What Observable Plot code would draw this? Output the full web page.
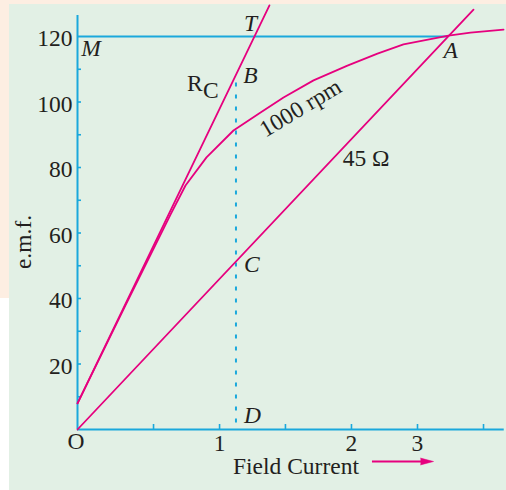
<!DOCTYPE html>
<html>
<head>
<meta charset="utf-8">
<script src="https://cdn.jsdelivr.net/npm/d3@7"></script>
<script src="https://cdn.jsdelivr.net/npm/@observablehq/plot@0.6"></script>
<style>
  html, body { margin: 0; padding: 0; background: #ffffff; }
  #wrap { position: relative; width: 506px; height: 490px; overflow: hidden; }
  #peach { position: absolute; left: 0; top: 0; width: 506px; height: 298px; background: #fdeee2; }
  #panel { position: absolute; left: 9px; top: 4px; width: 497px; height: 486px; background: #e2f0e5; }
  #chart { position: absolute; left: 0; top: 0; }
</style>
</head>
<body>
<div id="wrap">
  <div id="peach"></div>
  <div id="panel"></div>
  <div id="chart"></div>
</div>
<script>
// Open-circuit characteristic of a shunt generator at 1000 rpm (field current in A, e.m.f. in V)
const occCurrent = [0, 0.345, 0.669, 0.777, 0.928, 1.122, 1.317, 1.482, 1.698, 1.942, 2.158, 2.345, 2.669, 2.827, 3.065];
const occEmf     = [8, 37.9, 65.6, 74.5, 83.1, 91.3, 96.8, 101.4, 106.6, 111.1, 114.8, 117.6, 120.3, 121.2, 122.1];

// Critical resistance line (tangent to the initial part of the OCC)
const rcCurrent = [0, 1.381];
const rcEmf     = [8, 129.5];

// 45 ohm field resistance line
const fieldCurrent = [0, 2.849];
const fieldEmf     = [0, 128.2];

// Operating point A, tangent point T, and the construction at field current OD
const pointA = {I: 2.667, E: 120};
const pointT = {I: 1.273, E: 120};
const odCurrent = 1.14;
const pointB = {I: odCurrent, E: 108.3};
const pointC = {I: odCurrent, E: 51.3};
const pointD = {I: odCurrent, E: 0};

// Axis ticks
const yTickMarks = [10, 20, 30, 40, 50, 60, 70, 80, 90, 100, 110];
const yTickLabels = [20, 40, 60, 80, 100, 120];
const xTickPositions = [0.547, 1.022, 1.496, 1.971, 2.446, 2.921];
const xTickText = ["", "1", "", "2", "3", ""];

const magenta = "#e6007e";
const cyan = "#1aa8dc";
const ink = "#231f20";
const fs = 23.5;

const occ = occCurrent.map((I, i) => ({I, E: occEmf[i]}));
const rc = rcCurrent.map((I, i) => ({I, E: rcEmf[i]}));
const field = fieldCurrent.map((I, i) => ({I, E: fieldEmf[i]}));
const xTicks = xTickPositions.map((I, i) => ({I, label: xTickText[i]}));

const label = (data, options) => Plot.text(data, {fontSize: fs, fill: ink, lineAnchor: "middle", ...options});

const chart = Plot.plot({
  width: 506,
  height: 490,
  marginLeft: 77,
  marginRight: 0,
  marginTop: 3,
  marginBottom: 61,
  style: {background: "transparent", fontFamily: "'Liberation Serif', 'DejaVu Serif', serif", color: ink},
  x: {domain: [0, 3.0863], axis: null},
  y: {domain: [0, 130.08], axis: null},
  marks: [
    // axes
    Plot.ruleX([0], {y1: 0, y2: 126.4, stroke: cyan, strokeWidth: 2}),
    Plot.ruleY([0], {x1: 0, x2: 3.07, stroke: cyan, strokeWidth: 2}),
    Plot.tickY(yTickMarks, {y: d => d, insetRight: 425, stroke: cyan, strokeWidth: 1.6}),
    Plot.tickX(xTicks, {x: "I", insetTop: 421, stroke: cyan, strokeWidth: 1.6}),
    label(yTickLabels, {x: 0, y: d => d, text: d => String(d), textAnchor: "end", dx: -5, dy: 2}),
    label(xTicks, {x: "I", y: 0, text: "label", dy: 14}),
    label(["O"], {x: 0, y: 0, dx: -1.5, dy: 12}),

    // constant-voltage line MA at 120 V
    Plot.ruleY([pointA], {y: "E", x1: 0, x2: "I", stroke: cyan, strokeWidth: 2}),

    // ordinate BD
    Plot.ruleX([odCurrent], {y1: 2, y2: 107, stroke: cyan, strokeWidth: 2, strokeDasharray: "4,8"}),

    // curves
    Plot.line(rc, {x: "I", y: "E", stroke: magenta, strokeWidth: 1.8}),
    Plot.line(occ, {x: "I", y: "E", stroke: magenta, strokeWidth: 1.8}),
    Plot.line(field, {x: "I", y: "E", stroke: magenta, strokeWidth: 1.8}),

    // point labels
    label([pointT], {x: "I", y: "E", text: () => "T", dx: -4, dy: -13.5, fontStyle: "italic"}),
    label([{I: 0, E: 120}], {x: "I", y: "E", text: () => "M", dx: 13.5, dy: 12, fontStyle: "italic"}),
    label([pointA], {x: "I", y: "E", text: () => "A", dx: 2.5, dy: 13.5, fontStyle: "italic"}),
    label([pointB], {x: "I", y: "E", text: () => "B", dx: 14.5, dy: 1, fontStyle: "italic"}),
    label([pointC], {x: "I", y: "E", text: () => "C", dx: 16, dy: 3, fontStyle: "italic"}),
    label([pointD], {x: "I", y: "E", text: () => "D", dx: 16.5, dy: -14, fontStyle: "italic"}),

    // curve labels
    label([{I: 1.045, E: 100}], {x: "I", y: "E", text: () => "R", dx: -28, dy: -19}),
    label([{I: 1.045, E: 100}], {x: "I", y: "E", text: () => "C", dx: -12, dy: -12}),
    label([{I: 1.604, E: 104.3}], {x: "I", y: "E", text: () => "1000 rpm", rotate: -31, dy: 20}),
    label([{I: 2.076, E: 82.7}], {x: "I", y: "E", text: () => "45 Ω"}),

    // axis titles
    label(["e.m.f."], {frameAnchor: "left", textAnchor: "middle", rotate: -90, dx: -54, dy: 25.5}),
    label(["Field Current"], {frameAnchor: "bottom", textAnchor: "middle", dx: 4, dy: 37}),
    Plot.ruleY([0], {x1: 2.122, x2: 2.50, dy: 32, stroke: magenta, strokeWidth: 2}),
    Plot.vector([0], {x: 2.468, y: 0, dy: 32, rotate: 90, length: 13, r: 3.4, anchor: "start", shape: "spike", fill: magenta, stroke: magenta, strokeWidth: 0.5})
  ]
});

document.getElementById("chart").appendChild(chart);
</script>
</body>
</html>
